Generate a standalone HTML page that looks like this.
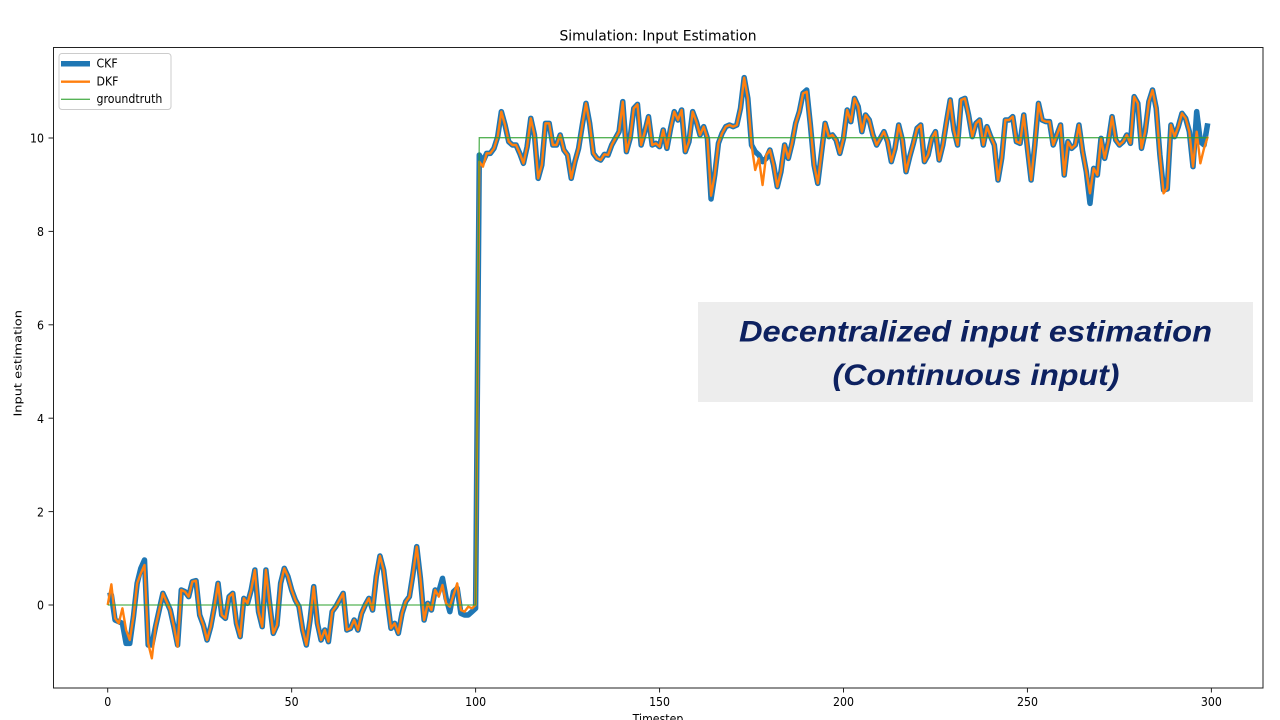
<!DOCTYPE html>
<html>
<head>
<meta charset="utf-8">
<style>
html,body{margin:0;padding:0;background:#fff;}
svg{display:block;}
text{font-family:"DejaVu Sans","Liberation Sans",sans-serif;fill:#000;}
text.ann{font-family:"Liberation Sans",sans-serif;font-weight:bold;font-style:italic;fill:#0d2160;font-size:30px;}
</style>
</head>
<body>
<svg width="1280" height="720" viewBox="0 0 1280 720" xmlns="http://www.w3.org/2000/svg">
<rect x="0" y="0" width="1280" height="720" fill="#fff"/>
<defs>
<clipPath id="ax"><rect x="53.5" y="47.5" width="1209.5" height="640.5"/></clipPath>
</defs>

<!-- title -->
<text x="658" y="40.5" font-size="14" text-anchor="middle" textLength="197" lengthAdjust="spacingAndGlyphs">Simulation: Input Estimation</text>

<!-- data -->
<g clip-path="url(#ax)">
<g transform="matrix(3.679 0 0 0.333333 107.7 65)">
<polyline fill="none" stroke="#1f77b4" stroke-width="5.5" stroke-linejoin="round" vector-effect="non-scaling-stroke" points="0,1592 1,1590 2,1665 3,1670 4,1675 5,1735 6,1735 7,1655 8,1555 9,1510 10,1485 11,1740 12,1740 13,1685 14,1635 15,1585 16,1610 17,1635 18,1685 19,1740 20,1575 21,1580 22,1595 23,1550 24,1547 25,1650 26,1680 27,1725 28,1685 29,1625 30,1555 31,1650 32,1660 33,1595 34,1585 35,1675 36,1715 37,1600 38,1615 39,1575 40,1515 41,1640 42,1685 43,1515 44,1615 45,1705 46,1680 47,1555 48,1510 49,1535 50,1575 51,1605 52,1625 53,1695 54,1740 55,1665 56,1565 57,1675 58,1725 59,1695 60,1730 61,1640 62,1625 63,1605 64,1585 65,1695 66,1690 67,1665 68,1695 69,1645 70,1620 71,1600 72,1635 73,1535 74,1473 75,1515 76,1605 77,1690 78,1675 79,1705 80,1645 81,1610 82,1595 83,1525 84,1445 85,1540 86,1665 87,1615 88,1635 89,1575 90,1580 91,1540 92,1600 93,1640 94,1580 95,1570 96,1645 97,1650 98,1650 99,1640 100,1630 101,270 102,290 103,265 104,265 105,250 106,215 107,140 108,180 109,230 110,240 111,240 112,265 113,295 114,245 115,160 116,210 117,340 118,300 119,175 120,175 121,240 122,240 123,210 124,255 125,270 126,340 127,290 128,250 129,180 130,115 131,175 132,265 133,280 134,285 135,268 136,270 137,240 138,220 139,200 140,110 141,260 142,220 143,130 144,118 145,240 146,200 147,155 148,240 149,235 150,245 151,195 152,250 153,190 154,140 155,165 156,135 157,260 158,230 159,140 160,170 161,210 162,185 163,220 164,402 165,330 166,235 167,205 168,185 169,180 170,185 171,180 172,130 173,38 174,100 175,240 176,260 177,270 178,290 179,280 180,255 181,300 182,365 183,320 184,240 185,280 186,235 187,175 188,140 189,85 190,75 191,180 192,300 193,355 194,265 195,175 196,215 197,210 198,225 199,265 200,220 201,135 202,170 203,100 204,125 205,200 206,150 207,165 208,210 209,240 210,220 211,200 212,230 213,290 214,250 215,180 216,225 217,320 218,275 219,235 220,190 221,180 222,290 223,270 224,220 225,200 226,285 227,240 228,170 229,105 230,195 231,240 232,105 233,100 234,150 235,215 236,175 237,165 238,240 239,185 240,215 241,240 242,345 243,280 244,165 245,165 246,155 247,230 248,235 249,150 250,250 251,345 252,240 253,115 254,165 255,170 256,170 257,240 258,210 259,180 260,330 261,230 262,250 263,240 264,180 265,260 266,320 267,415 268,310 269,330 270,220 271,280 272,230 273,155 274,225 275,240 276,230 277,210 278,235 279,95 280,115 281,250 282,200 283,110 284,75 285,130 286,270 287,375 288,372 289,180 290,215 291,185 292,145 293,160 294,200 295,305 296,140 297,230 298,240 299,175"/>
<polyline fill="none" stroke="#ff7f0e" stroke-width="2.4" stroke-linejoin="round" vector-effect="non-scaling-stroke" points="0,1620 1,1558 2,1660 3,1675 4,1630 5,1695 6,1725 7,1655 8,1555 9,1525 10,1500 11,1735 12,1780 13,1685 14,1635 15,1585 16,1610 17,1635 18,1685 19,1745 20,1575 21,1580 22,1595 23,1550 24,1547 25,1650 26,1680 27,1725 28,1685 29,1625 30,1555 31,1650 32,1660 33,1595 34,1585 35,1675 36,1715 37,1600 38,1615 39,1575 40,1515 41,1640 42,1685 43,1515 44,1615 45,1705 46,1680 47,1555 48,1510 49,1535 50,1575 51,1605 52,1625 53,1695 54,1740 55,1665 56,1565 57,1675 58,1725 59,1695 60,1730 61,1640 62,1625 63,1605 64,1585 65,1695 66,1690 67,1665 68,1695 69,1645 70,1620 71,1600 72,1635 73,1535 74,1473 75,1515 76,1605 77,1690 78,1675 79,1705 80,1645 81,1610 82,1595 83,1525 84,1445 85,1540 86,1665 87,1615 88,1635 89,1575 90,1595 91,1560 92,1615 93,1625 94,1590 95,1555 96,1635 97,1640 98,1625 99,1630 100,1620 101,290 102,305 103,265 104,265 105,250 106,215 107,140 108,180 109,230 110,240 111,240 112,265 113,295 114,245 115,160 116,210 117,340 118,300 119,175 120,175 121,240 122,240 123,210 124,255 125,270 126,340 127,290 128,250 129,180 130,115 131,175 132,265 133,280 134,285 135,268 136,270 137,240 138,220 139,200 140,110 141,260 142,220 143,130 144,118 145,240 146,200 147,155 148,240 149,235 150,245 151,195 152,250 153,190 154,140 155,165 156,135 157,260 158,230 159,140 160,170 161,210 162,185 163,220 164,392 165,330 166,235 167,205 168,185 169,180 170,185 171,180 172,130 173,38 174,100 175,240 176,315 177,280 178,360 179,270 180,255 181,300 182,365 183,320 184,240 185,280 186,235 187,175 188,140 189,85 190,80 191,180 192,300 193,355 194,265 195,175 196,215 197,210 198,225 199,265 200,220 201,135 202,170 203,100 204,125 205,200 206,150 207,165 208,210 209,240 210,220 211,200 212,230 213,290 214,250 215,180 216,225 217,320 218,275 219,235 220,190 221,180 222,290 223,270 224,220 225,200 226,285 227,240 228,170 229,105 230,195 231,240 232,105 233,100 234,150 235,215 236,175 237,165 238,240 239,185 240,215 241,240 242,345 243,280 244,165 245,165 246,155 247,230 248,235 249,150 250,250 251,345 252,240 253,115 254,165 255,170 256,170 257,240 258,210 259,180 260,330 261,230 262,250 263,240 264,180 265,260 266,320 267,385 268,310 269,330 270,220 271,280 272,230 273,155 274,225 275,240 276,230 277,210 278,235 279,95 280,115 281,250 282,200 283,110 284,75 285,130 286,270 287,385 288,370 289,180 290,215 291,185 292,145 293,160 294,200 295,305 296,200 297,295 298,250 299,215"/>
<polyline fill="none" stroke="#2ca02c" stroke-opacity="0.8" stroke-width="1.3" vector-effect="non-scaling-stroke" points="0,1620 100,1620 101,218 299,218"/>
</g>
</g>

<!-- axes frame -->
<rect x="53.5" y="47.5" width="1209.5" height="640.5" fill="none" stroke="#222" stroke-width="1"/>

<!-- x ticks -->
<g stroke="#222" stroke-width="1">
<line x1="107.7" y1="688" x2="107.7" y2="692.5"/>
<line x1="291.65" y1="688" x2="291.65" y2="692.5"/>
<line x1="475.6" y1="688" x2="475.6" y2="692.5"/>
<line x1="659.55" y1="688" x2="659.55" y2="692.5"/>
<line x1="843.5" y1="688" x2="843.5" y2="692.5"/>
<line x1="1027.45" y1="688" x2="1027.45" y2="692.5"/>
<line x1="1211.4" y1="688" x2="1211.4" y2="692.5"/>
</g>
<g font-size="11" text-anchor="middle">
<text transform="translate(107.7,706) scale(1,1.15)">0</text>
<text transform="translate(291.65,706) scale(1,1.15)">50</text>
<text transform="translate(475.6,706) scale(1,1.15)">100</text>
<text transform="translate(659.55,706) scale(1,1.15)">150</text>
<text transform="translate(843.5,706) scale(1,1.15)">200</text>
<text transform="translate(1027.45,706) scale(1,1.15)">250</text>
<text transform="translate(1211.4,706) scale(1,1.15)">300</text>
</g>
<text transform="translate(658,723) scale(1,1.15)" font-size="11" text-anchor="middle">Timestep</text>

<!-- y ticks -->
<g stroke="#222" stroke-width="1">
<line x1="48.5" y1="605" x2="53.5" y2="605"/>
<line x1="48.5" y1="511.6" x2="53.5" y2="511.6"/>
<line x1="48.5" y1="418.2" x2="53.5" y2="418.2"/>
<line x1="48.5" y1="324.8" x2="53.5" y2="324.8"/>
<line x1="48.5" y1="231.4" x2="53.5" y2="231.4"/>
<line x1="48.5" y1="138" x2="53.5" y2="138"/>
</g>
<g font-size="11" text-anchor="end">
<text transform="translate(44,609.7) scale(1,1.15)">0</text>
<text transform="translate(44,516.3) scale(1,1.15)">2</text>
<text transform="translate(44,422.9) scale(1,1.15)">4</text>
<text transform="translate(44,329.5) scale(1,1.15)">6</text>
<text transform="translate(44,236.1) scale(1,1.15)">8</text>
<text transform="translate(44,142.7) scale(1,1.15)">10</text>
</g>
<text transform="translate(21.5,363.3) rotate(-90) scale(1.18,1)" font-size="11" text-anchor="middle">Input estimation</text>

<!-- legend -->
<rect x="59" y="53.5" width="112" height="56" rx="3" ry="3" fill="#fff" fill-opacity="0.8" stroke="#cccccc" stroke-width="1"/>
<line x1="61" y1="63.7" x2="90" y2="63.7" stroke="#1f77b4" stroke-width="5.5"/>
<line x1="61" y1="81.7" x2="90" y2="81.7" stroke="#ff7f0e" stroke-width="2.4"/>
<line x1="61" y1="99.3" x2="90" y2="99.3" stroke="#2ca02c" stroke-opacity="0.8" stroke-width="1.3"/>
<g font-size="11">
<text transform="translate(96.5,67.7) scale(1,1.12)">CKF</text>
<text transform="translate(96.5,85.7) scale(1,1.12)">DKF</text>
<text transform="translate(96.5,103) scale(1,1.12)">groundtruth</text>
</g>

<!-- annotation box -->
<rect x="698" y="302" width="555" height="100" fill="#ededed"/>
<text class="ann" x="739" y="341.5" style="font-family:'Liberation Sans',sans-serif;font-weight:bold;font-style:italic;fill:#0d2160;font-size:30px;" textLength="473" lengthAdjust="spacingAndGlyphs">Decentralized input estimation</text>
<text class="ann" x="832.5" y="385" style="font-family:'Liberation Sans',sans-serif;font-weight:bold;font-style:italic;fill:#0d2160;font-size:30px;" textLength="287" lengthAdjust="spacingAndGlyphs">(Continuous input)</text>
</svg>
</body>
</html>
